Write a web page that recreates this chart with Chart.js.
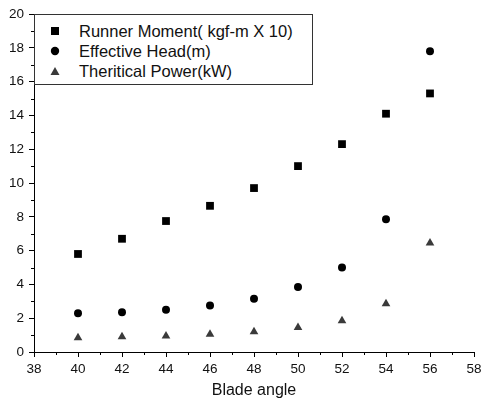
<!DOCTYPE html>
<html>
<head>
<meta charset="utf-8">
<script src="https://cdn.jsdelivr.net/npm/chart.js@4/dist/chart.umd.min.js"></script>
<style>
  html, body { margin: 0; padding: 0; background: #fff; }
  #wrap { position: relative; width: 483px; height: 404px; }
  #legend {
    position: absolute; left: 34px; top: 14px; width: 279px; height: 71px;
    border: 1px solid #333; background: #fff; box-sizing: border-box;
    font-family: "Liberation Sans", Arial, sans-serif; font-size: 16.5px; color: #111;
  }
  #legend .row { position: absolute; left: 0; height: 20px; line-height: 20px; }
  #legend .sym { position: absolute; left: 15px; top: 5px; width: 10px; height: 10px; }
  #legend .txt { position: absolute; left: 44px; top: 0; white-space: nowrap; }
</style>
</head>
<body>
<div id="wrap">
  <canvas id="chart" width="483" height="404"></canvas>
  <div id="legend"></div>
</div>
<script>
const bladeAngles = [40, 42, 44, 46, 48, 50, 52, 54, 56];
const runnerMoment = [5.8, 6.7, 7.75, 8.65, 9.7, 11.0, 12.3, 14.1, 15.3];
const effectiveHead = [2.3, 2.35, 2.5, 2.75, 3.15, 3.85, 5.0, 7.85, 17.8];
const theoreticalPower = [0.85, 0.9, 0.95, 1.05, 1.2, 1.45, 1.85, 2.85, 6.45];

const seriesNames = ['Runner Moment( kgf-m X 10)', 'Effective Head(m)', 'Theritical Power(kW)'];

function toPoints(ys) {
    return bladeAngles.map((x, i) => ({ x: x, y: ys[i] }));
}

// minor ticks at odd values, outward, shorter than major ones
const minorTicks = {
    id: 'minorTicks',
    afterDraw(chart) {
        const c = chart.ctx;
        const xs = chart.scales.x, ys = chart.scales.y;
        c.save();
        c.strokeStyle = '#000';
        c.lineWidth = 1;
        c.beginPath();
        for (let v = xs.min + 1; v < xs.max; v += 2) {
            const px = Math.round(xs.getPixelForValue(v)) + 0.5;
            c.moveTo(px, xs.top);
            c.lineTo(px, xs.top + 3);
        }
        for (let v = ys.min + 1; v < ys.max; v += 2) {
            const py = Math.round(ys.getPixelForValue(v)) + 0.5;
            c.moveTo(ys.right, py);
            c.lineTo(ys.right - 3, py);
        }
        c.stroke();
        c.restore();
    }
};

const font = { family: '"Liberation Sans", Arial, sans-serif', size: 13.5 };

const chart = new Chart(document.getElementById('chart'), {
    type: 'scatter',
    data: {
        datasets: [{
            label: seriesNames[0],
            data: toPoints(runnerMoment),
            pointStyle: 'rect',
            pointRadius: 5.5,
            backgroundColor: '#000',
            borderColor: '#000',
            borderWidth: 0
        },
        {
            label: seriesNames[1],
            data: toPoints(effectiveHead),
            pointStyle: 'circle',
            pointRadius: 4,
            backgroundColor: '#000',
            borderColor: '#000',
            borderWidth: 0
        },
        {
            label: seriesNames[2],
            data: toPoints(theoreticalPower),
            pointStyle: 'triangle',
            pointRadius: 5,
            backgroundColor: '#3a3a3a',
            borderColor: '#3a3a3a',
            borderWidth: 0
        }]
    },
    options: {
        responsive: false,
        animation: false,
        layout: { padding: { top: 14, right: 0, left: 0, bottom: 0 } },
        plugins: { legend: { display: false }, tooltip: { enabled: false } },
        scales: {
            x: {
                type: 'linear',
                min: 38, max: 58,
                ticks: { stepSize: 2, color: '#111', font: font, padding: 4 },
                grid: { drawOnChartArea: false, drawTicks: true, tickLength: 5, color: '#000' },
                border: { display: true, color: '#000', width: 1 },
                title: {
                    display: true, text: 'Blade angle', color: '#111',
                    font: { family: font.family, size: 16 }, padding: { top: 8 }
                },
                afterFit(scale) {
                    scale.height = 52;
                    scale.paddingRight = 9;
                    scale.paddingLeft = 0;
                }
            },
            y: {
                min: 0, max: 20,
                ticks: { stepSize: 2, color: '#111', font: font, padding: 5 },
                grid: { drawOnChartArea: false, drawTicks: true, tickLength: 5, color: '#000' },
                border: { display: true, color: '#000', width: 1 },
                afterFit(scale) {
                    scale.width = 34;
                    scale.paddingTop = 0;
                    scale.paddingBottom = 0;
                }
            }
        }
    },
    plugins: [minorTicks]
});

// legend box inside the plot, top-left
const legend = document.getElementById('legend');
const symbols = [
    '<svg class="sym" viewBox="0 0 10 10"><rect x="1" y="1" width="8" height="8" fill="#000"/></svg>',
    '<svg class="sym" viewBox="0 0 10 10"><circle cx="5" cy="5" r="4.2" fill="#000"/></svg>',
    '<svg class="sym" viewBox="0 0 10 10"><polygon points="5,1 9.5,9 0.5,9" fill="#3a3a3a"/></svg>'
];
seriesNames.forEach((name, i) => {
    const row = document.createElement('div');
    row.className = 'row';
    row.style.top = (6 + i * 20) + 'px';
    row.innerHTML = symbols[i] + '<span class="txt">' + name + '</span>';
    legend.appendChild(row);
});
</script>
</body>
</html>
